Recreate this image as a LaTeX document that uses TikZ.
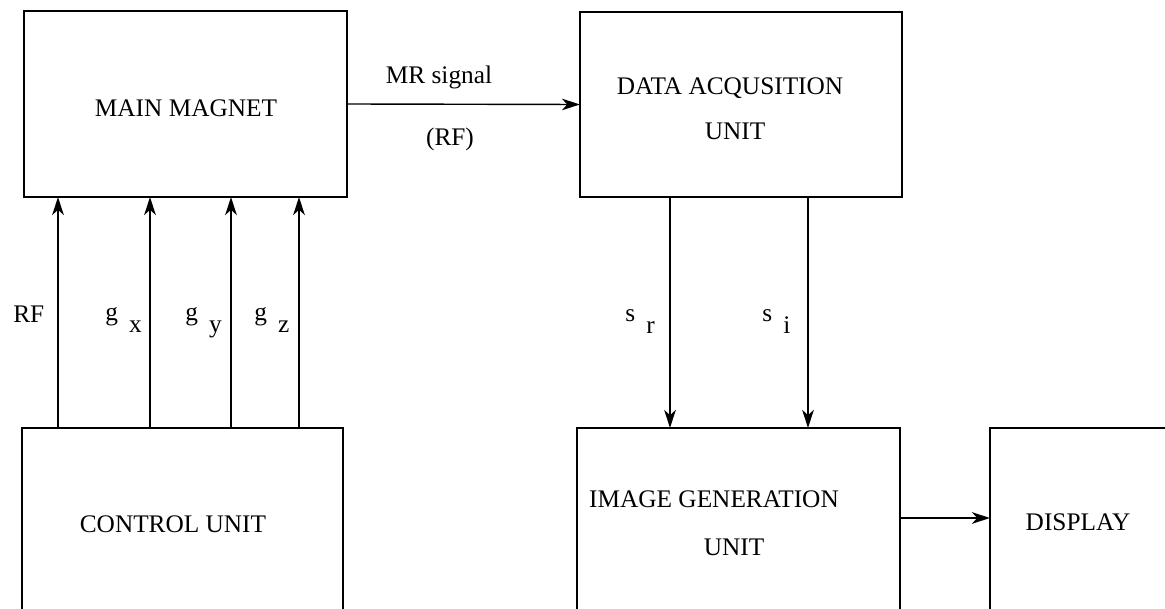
\documentclass[tikz,border=0pt]{standalone}
\usepackage{fontspec}
\setmainfont{Liberation Serif}
\usetikzlibrary{arrows.meta}
\tikzset{
  box/.style={draw, line width=1.5pt, inner sep=0pt, outer sep=0pt},
  sig/.style={draw, line width=1.4pt, -{Stealth[length=4.5mm,width=2.9mm,inset=1.3mm]}},
  lab/.style={inner sep=0pt, anchor=base, font=\fontsize{18}{22}\selectfont},
  sublab/.style={lab, anchor=base west}
}
\newcommand{\SubLab}[2]{#1\hspace{8pt}\raisebox{-8.5pt}{#2}}

\begin{document}
\begin{tikzpicture}[x=0.025cm, y=-0.025cm]
  \clip (0,0) rectangle (1165,609);

  % blocks, the lower row runs past the page edge
  \node[box, minimum width=8.075cm, minimum height=4.65cm] (mag) at (185.5,104) {};
  \node[box, minimum width=8.05cm, minimum height=4.625cm] (daq) at (741,104.5) {};
  \node[box, minimum width=8.025cm, minimum height=8.3cm] (ctrl) at (182.5,594) {};
  \node[box, minimum width=8.075cm, minimum height=8.3cm] (igu) at (738.5,594) {};
  \node[box, minimum width=8.5cm, minimum height=8.3cm] (disp) at (1160,594) {};

  \node[lab] (magtxt) at (186,117) {MAIN MAGNET};
  \node[lab] (daqtxt) at (730,95) {DATA ACQUSITION};
  \node[lab] (daqunit) at (735,140) {UNIT};
  \node[lab] (ctrltxt) at (173,532) {CONTROL UNIT};
  \node[lab] (igutxt) at (714,508) {IMAGE GENERATION};
  \node[lab] (iguunit) at (734,555) {UNIT};
  \node[lab] (disptxt) at (1078,531) {DISPLAY};

  % control lines into the magnet
  \foreach \name/\x in {rf/58, gx/150, gy/231, gz/299} {
    \coordinate (\name) at (\x,0);
    \draw[sig] (ctrl.north -| \name) -- (mag.south -| \name);
  }
  \node[sublab] (rflab) at (13,323) {RF};
  \node[sublab] (gxlab) at (105,321) {\SubLab{g}{x}};
  \node[sublab] (gylab) at (185,321) {\SubLab{g}{y}};
  \node[sublab] (gzlab) at (254,321) {\SubLab{g}{z}};

  % received signal
  \draw[sig, line width=1pt] (mag.east) -- (daq.west);
  \node[lab] (mrlab) at (439,84) {MR signal};
  \node[lab] (rflab2) at (450,146) {(RF)};

  % real and imaginary parts
  \foreach \name/\x in {sr/670, si/808} {
    \coordinate (\name) at (\x,0);
    \draw[sig] (daq.south -| \name) -- (igu.north -| \name);
  }
  \node[sublab] (srlab) at (625,322) {\SubLab{s}{r}};
  \node[sublab] (silab) at (762,322) {\SubLab{s}{i}};

  \coordinate (out) at (0,518);
  \draw[sig] (igu.east |- out) -- (disp.west |- out);
\end{tikzpicture}
\end{document}
